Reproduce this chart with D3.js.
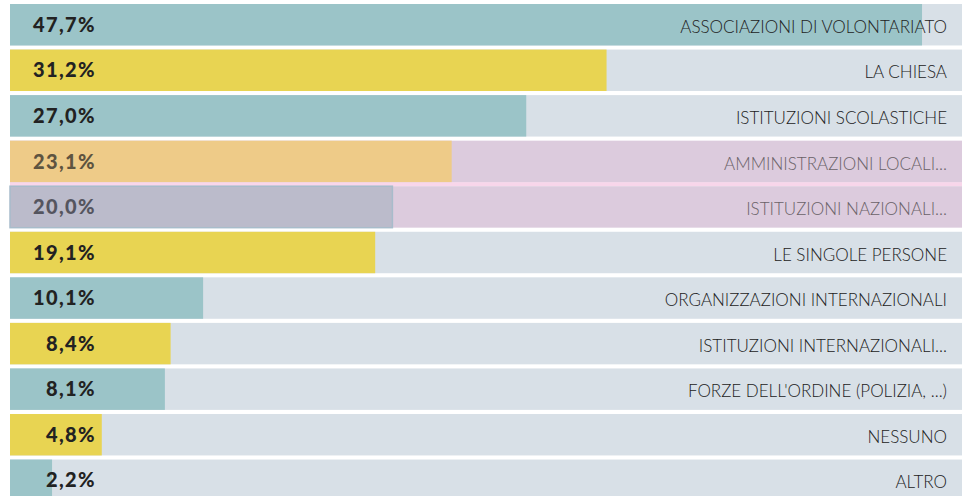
<!DOCTYPE html>
<html lang="it">
<head>
<meta charset="UTF-8">
<title>Chart</title>
<script src="https://d3js.org/d3.v7.min.js"></script>
<style>
  body { margin: 0; background: #fff; }
  .pct { font-family: "Lato", "Open Sans", sans-serif; font-weight: 900; font-size: 20px; letter-spacing: 1.4px; }
  .cat { font-family: "Lato", "Open Sans", sans-serif; font-weight: 300; font-size: 17px; }
</style>
</head>
<body>
<script>
const categories = [
  "ASSOCIAZIONI DI VOLONTARIATO",
  "LA CHIESA",
  "ISTITUZIONI SCOLASTICHE",
  "AMMINISTRAZIONI LOCALI...",
  "ISTITUZIONI NAZIONALI...",
  "LE SINGOLE PERSONE",
  "ORGANIZZAZIONI INTERNAZIONALI",
  "ISTITUZIONI INTERNAZIONALI...",
  "FORZE DELL'ORDINE (POLIZIA, ...)",
  "NESSUNO",
  "ALTRO"
];
const values = [47.7, 31.2, 27.0, 23.1, 20.0, 19.1, 10.1, 8.4, 8.1, 4.8, 2.2];
const valueLabels = ["47,7%", "31,2%", "27,0%", "23,1%", "20,0%", "19,1%", "10,1%", "8,4%", "8,1%", "4,8%", "2,2%"];
// row style: 0 = teal, 1 = yellow, 2 = orange dimmed, 3 = grey dimmed
const rowStyle = [0, 1, 0, 2, 3, 1, 0, 1, 0, 1, 0];

const styles = [
  { bar: "#9bc4c8", track: "#d8e0e7", pct: "#222222", cat: "#222222", stroke: "none" },
  { bar: "#e8d452", track: "#d8e0e7", pct: "#222222", cat: "#222222", stroke: "none" },
  { bar: "#eecb88", track: "#dccbdd", pct: "#5e5440", cat: "#6a6268", stroke: "none" },
  { bar: "#bbbbcb", track: "#dccbdd", pct: "#55555f", cat: "#6a6268", stroke: "#a8bccb" }
];

const w = 962, h = 496;
const svg = d3.select("body").append("svg").attr("width", w).attr("height", h);

const x = d3.scaleLinear().domain([0, 50]).range([10, 966]);
const y = d3.scaleBand().domain(categories).range([4, 501]).paddingInner(0.09).paddingOuter(0);

// pink separator between the two dimmed rows
svg.append("rect")
  .attr("x", x(0)).attr("width", w - x(0))
  .attr("y", y(categories[3]) + y.bandwidth())
  .attr("height", y(categories[4]) - y(categories[3]) - y.bandwidth())
  .attr("fill", "#f8d6ea");

const rows = svg.selectAll("g.row")
  .data(categories)
  .join("g")
  .attr("class", "row")
  .attr("transform", d => "translate(0," + y(d) + ")");

rows.append("rect")
  .attr("x", x(0))
  .attr("width", w - x(0))
  .attr("height", y.bandwidth())
  .attr("fill", (d, i) => styles[rowStyle[i]].track);

rows.append("rect")
  .attr("x", x(0))
  .attr("width", (d, i) => x(values[i]) - x(0))
  .attr("height", y.bandwidth())
  .attr("fill", (d, i) => styles[rowStyle[i]].bar)
  .attr("stroke", (d, i) => styles[rowStyle[i]].stroke)
  .attr("stroke-width", 1.5);

rows.append("text")
  .attr("class", "pct")
  .attr("x", 96)
  .attr("y", y.bandwidth() / 2)
  .attr("dy", "0.36em")
  .attr("text-anchor", "end")
  .attr("fill", (d, i) => styles[rowStyle[i]].pct)
  .text((d, i) => valueLabels[i]);

rows.append("text")
  .attr("class", "cat")
  .attr("x", 947)
  .attr("y", y.bandwidth() / 2 + 2)
  .attr("dy", "0.36em")
  .attr("text-anchor", "end")
  .attr("fill", (d, i) => styles[rowStyle[i]].cat)
  .text(d => d);
</script>
</body>
</html>
